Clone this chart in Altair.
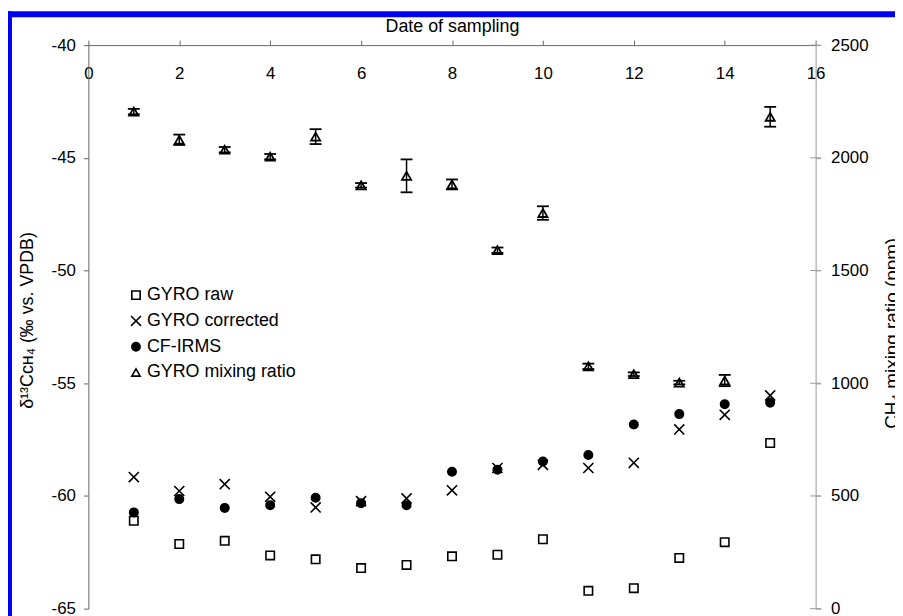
import altair as alt
import pandas as pd

# ---------------- data ----------------
samples = list(range(1, 16))
gyro_raw = [-61.10, -62.13, -61.99, -62.64, -62.81, -63.20, -63.06, -62.68,
            -62.61, -61.92, -64.21, -64.09, -62.75, -62.05, -57.65]
gyro_corrected = [-59.16, -59.78, -59.48, -60.04, -60.51, -60.23, -60.11, -59.75,
                  -58.76, -58.62, -58.76, -58.53, -57.05, -56.40, -55.54]
cf_irms = [-60.73, -60.14, -60.53, -60.41, -60.08, -60.32, -60.41, -58.93,
           -58.84, -58.47, -58.18, -56.83, -56.37, -55.93, -55.86]
mixing_ratio = [2205, 2080, 2036, 2005, 2094, 1878, 1920, 1882,
                1590, 1755, 1075, 1040, 1003, 1012, 2182]
mixing_err = [12, 23, 12, 12, 33, 10, 73, 22, 12, 30, 12, 8, 8, 25, 44]

series_names = ["GYRO raw", "GYRO corrected", "CF-IRMS", "GYRO mixing ratio"]
x_ticks = [0, 2, 4, 6, 8, 10, 12, 14, 16]
left_ticks = [-65, -60, -55, -50, -45, -40]
right_ticks = [0, 500, 1000, 1500, 2000, 2500]

FONT = "Liberation Sans"
W, H = 733, 568

delta_df = pd.DataFrame({
    "sample": samples * 3,
    "value": gyro_raw + gyro_corrected + cf_irms,
    "series": [series_names[0]] * 15 + [series_names[1]] * 15 + [series_names[2]] * 15,
})
mix_df = pd.DataFrame({
    "sample": samples,
    "ppm": mixing_ratio,
    "err": mixing_err,
    "series": [series_names[3]] * 15,
})
rticks_df = pd.DataFrame({"t": right_ticks})
frame_df = pd.DataFrame({"a": [0]})

CROSS = "M-1.2,-1.2L1.2,1.2M-1.2,1.2L1.2,-1.2"
shape_scale = alt.Scale(domain=series_names, range=["square", CROSS, "circle", "triangle-up"])
fill_scale = alt.Scale(domain=series_names, range=["white", "transparent", "black", "white"])
stroke_scale = alt.Scale(domain=series_names, range=["black", "black", "black", "black"])

legend = alt.Legend(title=None, orient="none", legendX=39, legendY=243, padding=0,
                    labelFont=FONT, labelFontSize=18, labelColor="black", labelOffset=2,
                    rowPadding=8, symbolStrokeWidth=1.6,
                    symbolOpacity=1, symbolSize=70)

x_axis = alt.Axis(orient="top", values=x_ticks, title="Date of sampling", titleFontSize=18,
                  titleY=-14, titleBaseline="alphabetic", labelFontSize=17, labelPadding=-39,
                  labelBaseline="alphabetic", labelFlush=False, tickSize=5,
                  labelExpr="toString(datum.value)",
                  domainColor="#666666", tickColor="#666666")
left_axis = alt.Axis(orient="left", values=left_ticks, title="δ¹³Cᴄʜ₄ (‰ vs. VPDB)",
                     titleFontSize=18, titleX=-56, titleY=277, titleBaseline="alphabetic",
                     titleAngle=270, labelFontSize=17, labelPadding=8, tickSize=5,
                     labelExpr="toString(datum.value)",
                     domainColor="#666666", tickColor="#666666")
right_axis = alt.Axis(orient="right", values=right_ticks, title="CH₄ mixing ratio (ppm)",
                      titleFontSize=19, titleAngle=270, titleX=83, titleY=290,
                      titleBaseline="alphabetic", labelFontSize=17, labelPadding=10,
                      labelExpr="toString(datum.value)",
                      tickSize=5, domainColor="#999999", tickColor="#999999")

x_scale = alt.Scale(domain=[0, 16], nice=False, zero=False)
yl_scale = alt.Scale(domain=[-65, -40], nice=False, zero=False)
yr_scale = alt.Scale(domain=[0, 2500], nice=False, zero=False)

X = alt.X("sample:Q", scale=x_scale, axis=x_axis)

points = alt.Chart(delta_df).mark_point(strokeWidth=1.6, opacity=1, size=72).encode(
    x=X,
    y=alt.Y("value:Q", scale=yl_scale, axis=left_axis),
    shape=alt.Shape("series:N", scale=shape_scale, legend=legend),
    fill=alt.Fill("series:N", scale=fill_scale, legend=legend),
    stroke=alt.Stroke("series:N", scale=stroke_scale, legend=legend),
)

frame_top = alt.Chart(frame_df).mark_rect(color="#0000f5").encode(
    x=alt.value(-81), x2=alt.value(W + 90), y=alt.value(-34), y2=alt.value(-28))
frame_left = alt.Chart(frame_df).mark_rect(color="#0000f5").encode(
    x=alt.value(-81), x2=alt.value(-77), y=alt.value(-34), y2=alt.value(H + 10))

left = alt.layer(points, frame_top, frame_left)

base = alt.Chart(mix_df).transform_calculate(
    lo="datum.ppm - datum.err", hi="datum.ppm + datum.err")

tri = base.mark_point(strokeWidth=1.8, opacity=1, size=85).encode(
    x=X,
    y=alt.Y("ppm:Q", scale=yr_scale, axis=right_axis),
    shape=alt.Shape("series:N", scale=shape_scale, legend=legend),
    fill=alt.Fill("series:N", scale=fill_scale, legend=legend),
    stroke=alt.Stroke("series:N", scale=stroke_scale, legend=legend),
)
bars = base.mark_rule(color="black", strokeWidth=1.5).encode(
    x=X, y=alt.Y("lo:Q", scale=yr_scale, axis=right_axis), y2="hi:Q")
cap_hi = base.mark_tick(orient="horizontal", size=12, thickness=1.8, color="black", opacity=1).encode(
    x=X, y=alt.Y("hi:Q", scale=yr_scale, axis=right_axis))
cap_lo = base.mark_tick(orient="horizontal", size=12, thickness=1.8, color="black", opacity=1).encode(
    x=X, y=alt.Y("lo:Q", scale=yr_scale, axis=right_axis))
rticks = alt.Chart(rticks_df).mark_tick(orient="horizontal", size=11, thickness=1,
                                         color="#999999", opacity=1).encode(
    x=alt.value(W), y=alt.Y("t:Q", scale=yr_scale, axis=right_axis))

right = alt.layer(tri, bars, cap_hi, cap_lo, rticks)

chart = alt.layer(left, right).resolve_scale(y="independent").properties(
    width=W, height=H,
    padding={"left": 81, "top": 35, "right": 80, "bottom": 5},
    autosize=alt.AutoSizeParams(type="none"),
    background="white",
).configure_view(strokeWidth=0).configure_axis(
    labelFont=FONT, titleFont=FONT, labelColor="black", titleColor="black",
    titleFontWeight="normal", grid=False,
)

chart.save("out.html", embed_options={"renderer": "svg", "actions": False})
